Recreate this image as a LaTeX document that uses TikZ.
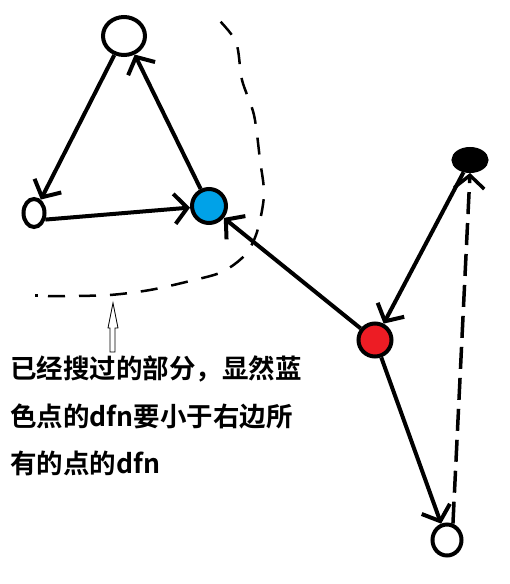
\documentclass[tikz,border=0pt]{standalone}
\usepackage{fontspec}
\newfontfamily\cjk{Noto Sans CJK SC}[BoldFont={* Bold}]
\usepackage{tikz}
\usetikzlibrary{positioning}
\usetikzlibrary{shapes.geometric}
\usetikzlibrary{arrows.meta}
\definecolor{paintblue}{RGB}{0,162,232}
\definecolor{paintred}{RGB}{237,28,36}

\begin{document}
\begin{tikzpicture}[x=1pt, y=-1pt,
        vertex/.style={draw, ellipse, line width=4pt, inner sep=0pt, fill=white},
        edge/.style={line width=4pt, -{Straight Barb[length=13pt, width=30pt]}},
        backedge/.style={edge, line width=3.5pt, dash pattern=on 22pt off 9pt},
        hull/.style={line width=2.5pt, dash pattern=on 17pt off 14pt},
        note/.style={anchor=base west, inner sep=0pt, font=\cjk\bfseries\fontsize{26.5}{30}\selectfont}]
        \useasboundingbox (0,0) rectangle (510,584);

        \node [vertex, minimum width=42pt, minimum height=38pt] (top) at (124,36) {};
        \node [vertex, minimum width=21pt, minimum height=28pt] (left) at (34,213) {};
        \node [vertex, circle, minimum size=34pt, fill=paintblue] (blue) at (209,206) {};
        \node [vertex, circle, minimum size=33pt, fill=paintred] (red) at (375,340) {};
        \node [vertex, minimum width=33pt, minimum height=22pt, fill=black] (black) at (470,160) {};
        \node [vertex, minimum width=29pt, minimum height=31pt] (bottom) at (447,540) {};

        \draw [edge] (top) -- (left);
        \draw [edge] (left.-30) -- (blue);
        \draw [edge] (blue) -- (top.-60);
        \draw [edge] (red) -- (blue);
        \draw [edge] (black) -- (red);
        \draw [edge] (red) -- (bottom);
        \draw [backedge] (bottom.70) -- (black.south);

        % searched part
        \draw [hull] plot [smooth] coordinates {(48,296) (70,296) (110,295) (150,290) (190,281) (222,272) (245,255) (257,232) (264,195) (260,160) (254,115) (242,80) (236,42) (217,18)};
        \draw [line width=3pt] (35,295) -- (38,295);
        \draw [line width=0.8pt] (110,352) -- (110,328) -- (108,328) -- (113,303) -- (118,328) -- (115,328) -- (115,352) -- cycle;

        \node [note] (note1) at (10,378) {已经搜过的部分，显然蓝};
        \node [note] (note2) at (10,426) {色点的dfn要小于右边所};
        \node [note] (note3) at (10,473) {有的点的dfn};
    \end{tikzpicture}
\end{document}
